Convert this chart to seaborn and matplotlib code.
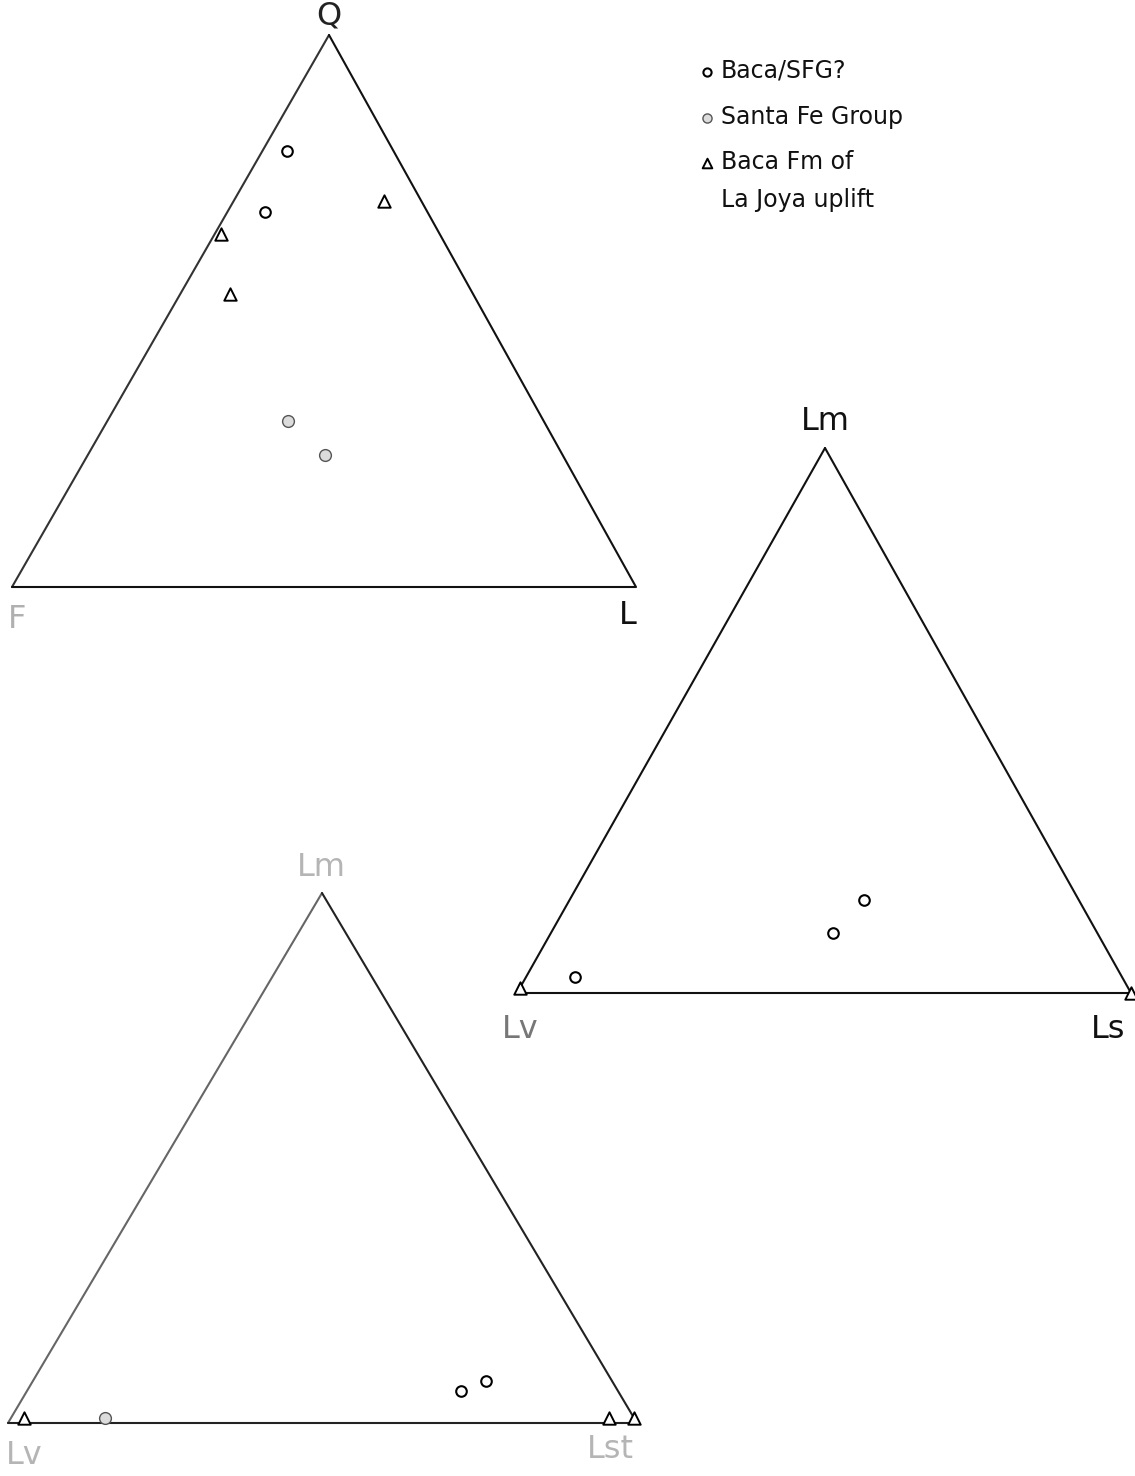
import matplotlib
matplotlib.use("Agg")
import matplotlib.pyplot as plt
import numpy as np
import pandas as pd
import seaborn as sns

sns.set_theme(style="white")
plt.rcParams['font.family'] = ['DejaVu Sans']

# ---- compositions (percent) ----
GROUPS = ["Baca/SFG?", "Santa Fe Group", "Baca Fm of\nLa Joya uplift"]

# Q-F-L
qfl_group = ["Baca/SFG?", "Baca/SFG?",
             "Santa Fe Group", "Santa Fe Group",
             "Baca Fm of\nLa Joya uplift", "Baca Fm of\nLa Joya uplift", "Baca Fm of\nLa Joya uplift"]
qfl_Q = [79, 68, 30, 24, 70, 64, 53]
qfl_F = [17, 26, 41, 38, 6, 35, 39]
qfl_L = [4, 6, 29, 38, 24, 1, 8]

# Lm-Lv-Ls
lmvs_group = ["Baca/SFG?", "Baca/SFG?", "Baca/SFG?",
              "Baca Fm of\nLa Joya uplift", "Baca Fm of\nLa Joya uplift"]
lmvs_Lm = [3, 11, 17, 1, 0]
lmvs_Lv = [89, 43, 35, 99, 0]
lmvs_Ls = [8, 46, 48, 0, 100]

# Lm-Lv-Lst
lmvst_group = ["Baca/SFG?", "Baca/SFG?", "Santa Fe Group",
               "Baca Fm of\nLa Joya uplift", "Baca Fm of\nLa Joya uplift", "Baca Fm of\nLa Joya uplift"]
lmvst_Lm = [6, 8, 1, 1, 1, 1]
lmvst_Lv = [25, 20, 84, 97, 4, 0]
lmvst_Lst = [69, 72, 15, 2, 95, 99]

# ---- figure in pixel units ----
W, H = 1135, 1476
fig = plt.figure(figsize=(W / 100, H / 100), dpi=100)
ax = fig.add_axes([0, 0, 1, 1])
ax.set_xlim(0, W)
ax.set_ylim(H, 0)
ax.axis("off")

# triangle frames: apex, lower-left, lower-right
TRI1 = dict(apex=(329, 35), left=(12, 587), right=(636, 587))
TRI2 = dict(apex=(825, 448), left=(517, 993), right=(1131, 993))
TRI3 = dict(apex=(322, 893), left=(8, 1423), right=(637, 1423))


def to_xy(tri, a, b, c):
    a, b, c = (np.asarray(v, float) for v in (a, b, c))
    s = a + b + c
    a, b, c = a / s, b / s, c / s
    x = a * tri["apex"][0] + b * tri["left"][0] + c * tri["right"][0]
    y = a * tri["apex"][1] + b * tri["left"][1] + c * tri["right"][1]
    return x, y


def draw_frame(tri, left_color="#111111", other_color="#111111"):
    ax.plot([tri["left"][0], tri["apex"][0]], [tri["left"][1], tri["apex"][1]],
            color=left_color, lw=1.5, solid_capstyle="round")
    ax.plot([tri["apex"][0], tri["right"][0], tri["left"][0]],
            [tri["apex"][1], tri["right"][1], tri["left"][1]],
            color=other_color, lw=1.5, solid_joinstyle="round")


draw_frame(TRI1, left_color="#333333")
draw_frame(TRI2)
draw_frame(TRI3, left_color="#666666", other_color="#222222")

frames = []
x, y = to_xy(TRI1, qfl_Q, qfl_F, qfl_L)
frames.append(pd.DataFrame(dict(x=x, y=y, group=qfl_group)))
x, y = to_xy(TRI2, lmvs_Lm, lmvs_Lv, lmvs_Ls)
frames.append(pd.DataFrame(dict(x=x, y=y, group=lmvs_group)))
x, y = to_xy(TRI3, lmvst_Lm, lmvst_Lv, lmvst_Lst)
frames.append(pd.DataFrame(dict(x=x, y=y, group=lmvst_group)))
pts = pd.concat(frames, ignore_index=True)

styles = {
    "Baca/SFG?": dict(marker="o", s=58, facecolor="white", edgecolor="black", linewidth=1.5),
    "Santa Fe Group": dict(marker="o", s=72, facecolor="#dcdcdc", edgecolor="#555555", linewidth=1.0),
    "Baca Fm of\nLa Joya uplift": dict(marker="^", s=80, facecolor="white", edgecolor="black", linewidth=1.4),
}
for g in GROUPS:
    sub = pts[pts["group"] == g]
    sns.scatterplot(data=sub, x="x", y="y", ax=ax, legend=False, zorder=3, **styles[g])

# vertex labels
lab = dict(ha="center", va="center", fontsize=23)
ax.text(329, 16, "Q", color="#222222", **lab)
ax.text(17, 620, "F", color="#b0b0b0", **lab)
ax.text(628, 615, "L", color="#111111", **lab)
ax.text(825, 422, "Lm", color="#111111", **lab)
ax.text(520, 1030, "Lv", color="#777777", **lab)
ax.text(1108, 1030, "Ls", color="#111111", **lab)
ax.text(321, 868, "Lm", color="#b5b5b5", **lab)
ax.text(24, 1455, "Lv", color="#b5b5b5", **lab)
ax.text(610, 1450, "Lst", color="#b5b5b5", **lab)

# key
key_y = [72, 118, 163]
for g, ky in zip(GROUPS, key_y):
    st = dict(styles[g])
    st["s"] = st["s"] * 0.6
    ax.scatter([707], [ky], zorder=3, **st)
key = dict(fontsize=17, va="center", ha="left", color="#111111")
ax.text(721, 71, "Baca/SFG?", **key)
ax.text(721, 117, "Santa Fe Group", **key)
ax.text(721, 162, "Baca Fm of", **key)
ax.text(721, 200, "La Joya uplift", **key)

fig.savefig("out.png", dpi=100, facecolor="white")
